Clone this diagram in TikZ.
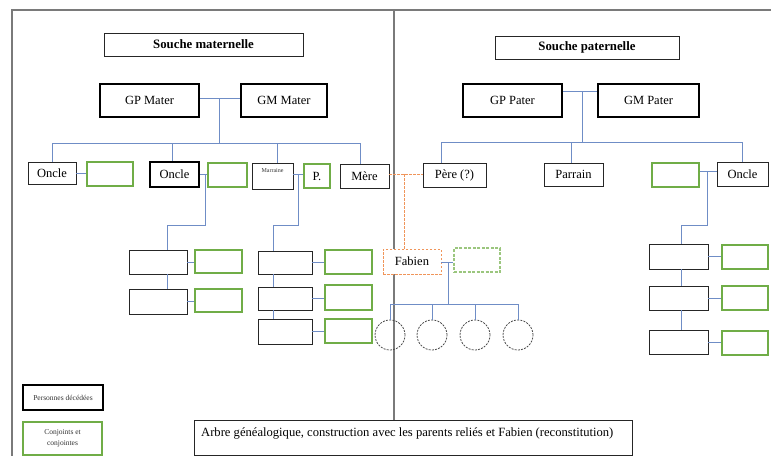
\documentclass[tikz,border=0pt]{standalone}
\usepackage{fontspec}
\setmainfont{Liberation Serif}
\definecolor{gr}{HTML}{70AD47}
\definecolor{lk}{HTML}{6F8DC6}
\definecolor{org}{HTML}{F0955A}
\definecolor{frm}{HTML}{7A7A7A}
\tikzset{
  pbox/.style={draw=black!85, line width=0.8pt, fill=white, inner sep=0pt, minimum width=#1, font=\fontsize{12.5}{14}\selectfont},
  dbox/.style={pbox=#1, line width=2.6pt, draw=black},
  gbox/.style={pbox=#1, draw=gr, line width=2.4pt},
  link/.style={draw=lk, line width=1pt},
  olink/.style={draw=org, line width=0.8pt, dashed, dash pattern=on 2.5pt off 1.5pt},
  kid/.style={circle, draw=black!70, line width=0.8pt, dash pattern=on 2pt off 1.2pt, minimum size=30pt, inner sep=0pt},
}
\begin{document}
\begin{tikzpicture}[x=1pt,y=-1pt]
\useasboundingbox (0,0) rectangle (771,456);
% frame
\draw[frm, line width=1.6pt] (771,10) -- (12,10) -- (12,456);
\draw[frm, line width=1.2pt] (394,10) -- (394,456);

% titles
\node[pbox=199pt, minimum height=23pt, font=\bfseries\fontsize{12.8}{14}\selectfont] (smat) at (203.5,44.5) {Souche maternelle};
\node[pbox=184pt, minimum height=23pt, font=\bfseries\fontsize{12.8}{14}\selectfont] (spat) at (587,47.5) {Souche paternelle};

% grandparents
\node[dbox=99pt, minimum height=33pt] (gpm) at (149.5,100.5) {GP Mater};
\node[dbox=86pt, minimum height=33pt] (gmm) at (284,100.5) {GM Mater};
\node[dbox=99pt, minimum height=33pt] (gpp) at (512.5,100.5) {GP Pater};
\node[dbox=101pt, minimum height=33pt] (gmp) at (648.5,100.5) {GM Pater};

% maternal children
\node[pbox=48pt, minimum height=22pt] (o1) at (52,173) {Oncle};
\node[gbox=46pt, minimum height=24pt] (g1) at (110,174) {};
\node[dbox=49pt, minimum height=25pt] (o2) at (174.5,174.5) {Oncle};
\node[gbox=39pt, minimum height=24pt] (g2) at (227.5,175) {};
\node[pbox=41pt, minimum height=26pt] (mar) at (272.5,176) {};
\node[font=\fontsize{6}{6}\selectfont, inner sep=0pt, text=black!80] (martx) at (272.5,171) {Marraine};
\node[gbox=26pt, minimum height=24pt] (pg) at (317,176) {P.};
\node[pbox=49pt, minimum height=24pt] (mere) at (364.5,176) {Mère};

% paternal children
\node[pbox=63pt, minimum height=24pt] (pere) at (454.5,175) {Père (?)};
\node[pbox=59pt, minimum height=23pt] (parr) at (573.5,174.5) {Parrain};
\node[gbox=47pt, minimum height=24pt] (g3) at (675.5,175) {};
\node[pbox=51pt, minimum height=24pt] (o3) at (742.5,174) {Oncle};

% cousins col A
\node[pbox=58pt, minimum height=24pt] (a1) at (158,262) {};
\node[gbox=47pt, minimum height=23pt] (ag1) at (218.5,261.5) {};
\node[pbox=58pt, minimum height=25pt] (a2) at (158,301.5) {};
\node[gbox=47pt, minimum height=23pt] (ag2) at (218.5,300.5) {};
% cousins col B
\node[pbox=54pt, minimum height=23pt] (b1) at (285,262.5) {};
\node[gbox=47pt, minimum height=24pt] (bg1) at (348.5,262) {};
\node[pbox=54pt, minimum height=23pt] (b2) at (285,298.5) {};
\node[gbox=47pt, minimum height=25pt] (bg2) at (348.5,297.5) {};
\node[pbox=54pt, minimum height=25pt] (b3) at (285,331.5) {};
\node[gbox=47pt, minimum height=24pt] (bg3) at (348.5,331) {};
% cousins right
\node[pbox=59pt, minimum height=25pt] (c1) at (678.5,256.5) {};
\node[gbox=46pt, minimum height=24pt] (cg1) at (745,257) {};
\node[pbox=59pt, minimum height=24pt] (c2) at (678.5,298) {};
\node[gbox=46pt, minimum height=24pt] (cg2) at (745,298) {};
\node[pbox=59pt, minimum height=24pt] (c3) at (678.5,342) {};
\node[gbox=46pt, minimum height=24pt] (cg3) at (745,343) {};

% Fabien
\node[pbox=58pt, minimum height=25pt, draw=org, dash pattern=on 2.5pt off 1.5pt] (fab) at (412,261.5) {Fabien};
\node[pbox=46pt, minimum height=24pt, draw=gr!70, line width=1.6pt, dash pattern=on 3pt off 1.5pt] (fg) at (477,260) {};
\node[kid] (k1) at (390,335) {};
\node[kid] (k2) at (432,335) {};
\node[kid] (k3) at (475,335) {};
\node[kid] (k4) at (518,335) {};

% legend
\node[dbox=80pt, minimum height=25pt, font=\fontsize{7.5}{8}\selectfont, text=black!80] (l1) at (63,397.5) {Personnes décédées};
\node[gbox=79pt, minimum height=33pt, font=\fontsize{7.5}{11}\selectfont, text=black!80, align=center] (l2) at (62.5,438.5) {Conjoints et\\conjointes};

% caption
\node[pbox=438pt, minimum height=35pt] (cap) at (413,437.5) {};
\node[anchor=west, inner sep=0pt, font=\fontsize{12.6}{14}\selectfont] (captx) at (201,433) {Arbre généalogique, construction avec les parents reliés et Fabien (reconstitution)};

% ---- connectors maternal
\coordinate (jm) at (219,98);
\coordinate (hm) at (219,143);
\draw[link] (gpm.east |- jm) -- (gmm.west |- jm);
\draw[link] (jm) -- (hm);
\coordinate (dm1) at (52,143);
\coordinate (dm2) at (172,143);
\coordinate (dm3) at (277,143);
\coordinate (dm4) at (360,143);
\draw[link] (dm1) -- (dm4);
\draw[link] (dm1) -- (o1.north);
\draw[link] (dm2) -- (dm2 |- o2.north);
\draw[link] (dm3) -- (dm3 |- mar.north);
\draw[link] (dm4) -- (dm4 |- mere.north);

\draw[link] (o1.east) -- (o1.east -| g1.west);
\coordinate (ja) at (205,174.5);
\draw[link] (o2.east |- ja) -- (g2.west |- ja);
\coordinate (ta) at (167,225);
\draw[link] (ja) |- (ta) -- (ta |- a1.north);
\draw[link] (ta |- a1.south) -- (ta |- a2.north);
\draw[link] (a1.east) -- (a1.east -| ag1.west);
\draw[link] (a2.east) -- (a2.east -| ag2.west);

\coordinate (jb) at (298,174);
\draw[link] (mar.east |- jb) -- (pg.west |- jb);
\coordinate (tb) at (273,225);
\draw[link] (jb) |- (tb) -- (tb |- b1.north);
\draw[link] (tb |- b1.south) -- (tb |- b2.north);
\draw[link] (tb |- b2.south) -- (tb |- b3.north);
\draw[link] (b1.east) -- (b1.east -| bg1.west);
\draw[link] (b2.east) -- (b2.east -| bg2.west);
\draw[link] (b3.east) -- (b3.east -| bg3.west);

% ---- connectors paternal
\coordinate (jp) at (582,91);
\coordinate (hp) at (582,142);
\draw[link] (gpp.east |- jp) -- (gmp.west |- jp);
\draw[link] (jp) -- (hp);
\coordinate (dp1) at (441,142);
\coordinate (dp2) at (571,142);
\coordinate (dp3) at (742,142);
\draw[link] (dp1) -- (dp3);
\draw[link] (dp1) -- (dp1 |- pere.north);
\draw[link] (dp2) -- (dp2 |- parr.north);
\draw[link] (dp3) -- (dp3 |- o3.north);

\coordinate (jc) at (707,171);
\draw[link] (g3.east |- jc) -- (o3.west |- jc);
\coordinate (tc) at (681,225);
\draw[link] (jc) |- (tc) -- (tc |- c1.north);
\draw[link] (tc |- c1.south) -- (tc |- c2.north);
\draw[link] (tc |- c2.south) -- (tc |- c3.north);
\draw[link] (c1.east) -- (c1.east -| cg1.west);
\draw[link] (c2.east) -- (c2.east -| cg2.west);
\draw[link] (c3.east) -- (c3.east -| cg3.west);

% ---- Fabien links
\coordinate (jo) at (404,174);
\draw[olink] (mere.east |- jo) -- (pere.west |- jo);
\draw[olink] (jo) -- (jo |- fab.north);
\coordinate (jf) at (448,262);
\draw[link] (fab.east |- jf) -- (fg.west |- jf);
\coordinate (hf) at (448,304);
\draw[link] (jf) -- (hf);
\draw[link] (k1.north |- hf) -- (k4.north |- hf);
\draw[link] (k1.north |- hf) -- (k1.north);
\draw[link] (k2.north |- hf) -- (k2.north);
\draw[link] (k3.north |- hf) -- (k3.north);
\draw[link] (k4.north |- hf) -- (k4.north);
\end{tikzpicture}
\end{document}
